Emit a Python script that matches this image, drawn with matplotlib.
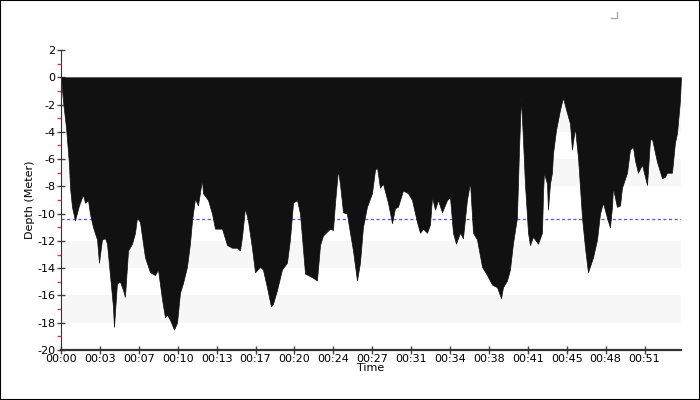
import numpy as np
import matplotlib
matplotlib.use("Agg")
import matplotlib.pyplot as plt
from matplotlib.lines import Line2D
from matplotlib.patches import Rectangle

plt.rcParams['axes.unicode_minus'] = False
plt.rcParams['font.family'] = ['DejaVu Sans']

# dive profile: time in minutes, depth in metres
time_min = [0.00, 0.17, 0.44, 0.70, 0.79, 0.96, 1.22, 1.57, 1.92, 2.10, 2.36, 2.53, 2.80, 3.15, 3.32,
            3.58, 3.85, 4.02, 4.28, 4.54, 4.63, 4.89, 5.16, 5.42, 5.59, 5.86, 6.21, 6.47, 6.64, 6.90,
            7.34, 7.78, 8.22, 8.48, 8.83, 9.09, 9.26, 9.53, 9.88, 10.14, 10.40, 10.66, 11.01, 11.27,
            11.45, 11.71, 11.97, 12.32, 12.41, 12.85, 13.20, 13.46, 14.07, 14.51, 14.95, 15.38, 15.64,
            15.82, 16.08, 16.34, 16.69, 16.96, 17.39, 17.65, 18.00, 18.35, 18.53, 18.88, 19.31, 19.75,
            20.01, 20.28, 20.63, 20.89, 21.06, 21.33, 21.59, 22.02, 22.37, 22.64, 22.90, 23.51, 23.77,
            23.95, 24.21, 24.38, 24.65, 24.99, 25.26, 25.52, 25.87, 26.13, 26.39, 26.74, 27.18, 27.44,
            27.62, 27.88, 28.14, 28.58, 28.93, 29.19, 29.45, 29.89, 30.33, 30.68, 31.11, 31.38, 31.64,
            31.99, 32.25, 32.43, 32.69, 32.95, 33.30, 33.74, 34.00, 34.26, 34.52, 34.87, 35.13, 35.48,
            35.75, 36.01, 36.36, 36.80, 37.23, 37.67, 38.11, 38.46, 38.63, 38.98, 39.24, 39.50, 39.85,
            40.03, 40.20, 40.38, 40.55, 40.82, 40.99, 41.25, 41.69, 42.04, 42.13, 42.21, 42.48, 42.56,
            42.74, 42.91, 43.00, 43.26, 43.61, 43.87, 44.22, 44.49, 44.66, 44.92, 45.19, 45.54, 45.80,
            46.06, 46.50, 46.85, 47.11, 47.37, 47.72, 47.98, 48.16, 48.24, 48.59, 48.86, 49.03, 49.47,
            49.73, 49.99, 50.17, 50.43, 50.78, 51.22, 51.48, 51.65, 52.09, 52.53, 52.79, 52.96, 53.40,
            53.66, 53.84, 54.10, 54.19]
depth_m = [0.0, -1.7, -3.7, -6.4, -8.1, -9.5, -10.5, -9.4, -8.6, -9.2, -9.0, -10.0, -11.0, -11.9, -13.6,
           -11.9, -11.8, -12.2, -14.5, -16.8, -18.3, -15.1, -15.0, -15.6, -16.1, -12.7, -12.2, -11.4, -10.3, -10.6,
           -13.2, -14.3, -14.5, -14.1, -16.3, -17.6, -17.4, -17.8, -18.5, -18.0, -15.8, -15.1, -13.9, -12.2,
           -10.5, -8.9, -9.4, -7.5, -8.5, -9.0, -10.0, -11.1, -11.1, -12.3, -12.5, -12.5, -12.7,
           -11.7, -9.6, -10.5, -12.5, -14.3, -13.9, -14.1, -15.4, -16.8, -16.6, -15.6, -14.1, -13.6,
           -11.9, -9.2, -9.0, -10.0, -11.7, -14.4, -14.5, -14.7, -14.9, -12.3, -11.6, -11.1, -11.2,
           -9.2, -6.8, -7.8, -9.9, -10.0, -11.4, -12.7, -14.9, -13.6, -11.0, -9.5, -8.5, -6.8,
           -6.6, -8.1, -7.8, -9.2, -10.7, -9.6, -9.5, -8.3, -8.5, -9.0, -10.6, -11.4, -11.1,
           -11.4, -10.8, -8.8, -9.7, -9.0, -9.9, -9.0, -8.8, -11.4, -12.2, -11.4, -11.8, -9.0,
           -7.7, -11.4, -11.9, -13.9, -14.5, -15.2, -15.4, -16.2, -15.4, -14.9, -14.1, -12.2, -10.3,
           -5.3, -1.5, -4.6, -7.8, -11.4, -12.3, -11.7, -12.2, -11.4, -8.5, -7.0, -7.8, -9.7,
           -7.8, -7.0, -5.6, -3.9, -2.4, -1.5, -2.6, -3.4, -5.3, -3.7, -5.9, -10.3, -12.5,
           -14.3, -13.2, -11.9, -10.0, -9.2, -10.3, -11.0, -9.5, -8.1, -9.5, -9.4, -8.1, -7.0,
           -5.3, -5.1, -6.1, -7.0, -6.4, -7.9, -4.6, -4.5, -6.2, -7.4, -7.3, -7.0, -7.0,
           -4.8, -4.1, -1.7, 0.0]

avg_depth = -10.4
band_ranges = [(-4, -2), (-8, -6), (-14, -12), (-18, -16)]
tick_pos = [i * 3.4 for i in range(16)]
tick_labels = ['00:00', '00:03', '00:07', '00:10', '00:13', '00:17', '00:20', '00:24',
               '00:27', '00:31', '00:34', '00:38', '00:41', '00:45', '00:48', '00:51']

fig = plt.figure(figsize=(7, 4), dpi=100)
ax = fig.add_axes([61 / 700, 50 / 400, 620 / 700, 300 / 400])

for lo, hi in band_ranges:
    ax.axhspan(lo, hi, color='#f7f7f7', lw=0, zorder=0)
ax.axhline(avg_depth, color='#5555ee', lw=0.9, ls=(0, (2.5, 2)), zorder=1)
ax.fill_between(time_min, depth_m, 0, color='#111111', lw=0.5, edgecolor='#111111', zorder=2)

ax.set_xlim(0, time_min[-1])
ax.set_ylim(-20, 2)
ax.set_xticks(tick_pos)
ax.set_xticklabels(tick_labels)
ax.set_yticks(np.arange(-20, 3, 2))
ax.set_yticks(np.arange(-19, 2, 2), minor=True)

for s in ['top', 'right']:
    ax.spines[s].set_visible(False)
ax.spines['left'].set_color('#333333')
ax.spines['bottom'].set_color('#333333')
ax.spines['bottom'].set_linewidth(1.6)

ax.tick_params(axis='both', which='major', direction='inout', length=6, width=1,
               color='#444444', labelsize=8, pad=1)
ax.tick_params(axis='y', which='minor', direction='out', length=3, width=1, color='#e04040')
ax.tick_params(axis='x', which='major', pad=0)

ax.set_xlabel('Time', fontsize=8, labelpad=-1)
ax.set_ylabel('Depth (Meter)', fontsize=8, labelpad=2)

# outer frame and little corner mark
fig.patches.append(Rectangle((0, 0), 1, 1, transform=fig.transFigure, fill=False,
                             edgecolor='black', lw=1.5))
fig.lines.append(Line2D([611 / 700, 617 / 700, 617 / 700], [1 - 18 / 400, 1 - 18 / 400, 1 - 12 / 400],
                        transform=fig.transFigure, color='#aaaaaa', lw=1))

fig.savefig('out.png', dpi=100)
